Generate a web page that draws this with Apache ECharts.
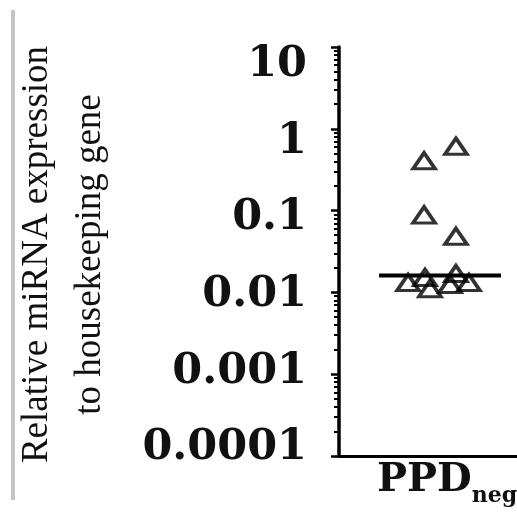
<!DOCTYPE html>
<html><head><meta charset="utf-8">
<script src="https://cdn.jsdelivr.net/npm/echarts@6/dist/echarts.min.js"></script>
<style>html,body{margin:0;padding:0;background:#fff}#c{width:517px;height:515px}</style>
</head><body><div id="c"></div>
<script>
const categories = ['PPD_neg'];
const yTickLabels = ['0.0001', '0.001', '0.01', '0.1', '1', '10'];
const pointJitter = [0.478, 0.657, 0.478, 0.657, 0.483, 0.657, 0.388, 0.511, 0.624, 0.730];
const pointValues = [0.406, 0.612, 0.0886, 0.0485, 0.0152, 0.0170, 0.0132, 0.0111, 0.0125, 0.0132];
const medianValue = 0.0161;
const medianSpan = [0.225, 0.910];
const yTitle = 'Relative miRNA expression\nto housekeeping gene';

const chart = echarts.init(document.getElementById('c'), null, {renderer: 'canvas'});
const tickFont = {fontFamily: 'DejaVu Serif', fontWeight: 'bold', fontSize: 43, color: '#111'};
chart.setOption({
  animation: false,
  backgroundColor: '#fff',
  graphic: [{type: 'rect', shape: {x: 11, y: 10, width: 4, height: 490}, style: {fill: '#c4c4c4'}}],
  grid: [
    {left: 339, top: 47, bottom: 59, right: 0, outerBoundsMode: 'none', containLabel: false},
    {left: 339, top: 65, bottom: 67, right: 0, outerBoundsMode: 'none', containLabel: false}
  ],
  xAxis: [
    {type: 'category', gridIndex: 0, data: categories, boundaryGap: true,
     axisLine: {lineStyle: {color: '#000', width: 3}}, axisTick: {show: false},
     axisLabel: {margin: -1, padding: [0, 0, 0, 38], formatter: function (v) { const p = v.split('_'); return '{a|' + p[0] + '}{b|' + p[1] + '}'; },
       rich: {a: {fontFamily: 'DejaVu Serif', fontWeight: 'bold', fontSize: 40, color: '#111'},
              b: {fontFamily: 'DejaVu Serif', fontWeight: 'bold', fontSize: 22, color: '#111', padding: [30, 0, 0, 0]}}}},
    {type: 'value', gridIndex: 0, min: 0, max: 1, show: false},
    {type: 'value', gridIndex: 1, min: 0, max: 1, show: false}
  ],
  yAxis: [
    {type: 'log', gridIndex: 0, logBase: 10, min: 0.0001, max: 10, splitNumber: 5,
     axisLine: {show: true, onZero: false, lineStyle: {color: '#000', width: 3.5}},
     axisTick: {show: true, length: 8, lineStyle: {color: '#000', width: 2.5}},
     minorTick: {show: true, splitNumber: 9, length: 5, lineStyle: {color: '#000', width: 2}},
     axisLabel: {show: false}, splitLine: {show: false},
     name: yTitle, nameLocation: 'middle', nameRotate: 90, nameGap: 222,
     nameTextStyle: {fontFamily: 'Liberation Serif', fontSize: 37, lineHeight: 53, color: '#111', padding: [0, 6, 0, 0]}},
    {type: 'log', gridIndex: 1, logBase: 10, min: 0.0001, max: 10, splitNumber: 5,
     axisLine: {show: false, onZero: false}, axisTick: {show: false}, splitLine: {show: false},
     axisLabel: Object.assign({margin: 32, formatter: function (v) { return yTickLabels[Math.round(Math.log10(v)) + 4]; }}, tickFont)}
  ],
  series: [
    {type: 'line', xAxisIndex: 1, yAxisIndex: 0, symbol: 'none', silent: true,
     lineStyle: {color: '#000', width: 4},
     data: [[medianSpan[0], medianValue], [medianSpan[1], medianValue]]},
    {type: 'scatter', xAxisIndex: 1, yAxisIndex: 0, symbol: 'triangle', symbolSize: [22, 16],
     itemStyle: {color: 'rgba(255,255,255,0)', borderColor: '#000', borderWidth: 3.5},
     data: pointJitter.map(function (x, i) { return [x, pointValues[i]]; })}
  ]
});
</script></body></html>
